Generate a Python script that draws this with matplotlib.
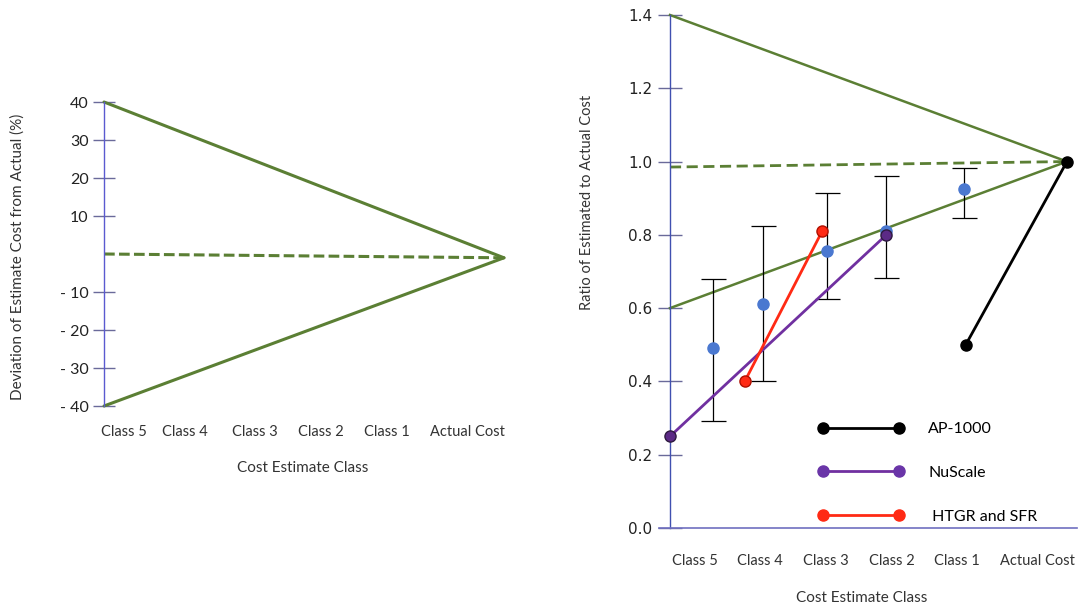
import numpy as np
import matplotlib.pyplot as plt
from matplotlib.lines import Line2D

plt.rcParams['font.family'] = ['Lato', 'DejaVu Sans']

# ---- data ----
classes = ['Class 5', 'Class 4', 'Class 3', 'Class 2', 'Class 1', 'Actual Cost']

# left panel: accuracy funnel (% deviation)
left_class_x = [0.30, 1.22, 2.27, 3.26, 4.24, 5.45]
left_funnel_x = [0.0, 6.0]
left_upper = [40, -1]
left_lower = [-40, -1]
left_mid = [0, -1]
left_yticks = [-40, -30, -20, -10, 10, 20, 30, 40]
left_yticklabels = ['- 40', '- 30', '- 20', '- 10', '10', '20', '30', '40']

# right panel: ratio of estimate to actual
right_class_x = [0.38, 1.36, 2.36, 3.36, 4.34, 5.56]
right_funnel_x = [0.0, 6.0]
right_upper = [1.4, 1.0]
right_lower = [0.6, 1.0]
right_mid = [0.985, 1.0]
right_yticks = [0.0, 0.2, 0.4, 0.6, 0.8, 1.0, 1.2, 1.4]

survey_x = [0.65, 1.40, 2.38, 3.27, 4.45]
survey_mean = [0.49, 0.61, 0.755, 0.81, 0.925]
survey_low = [0.293, 0.40, 0.625, 0.683, 0.845]
survey_high = [0.68, 0.824, 0.915, 0.96, 0.982]

ap1000_x = [4.47, 6.0]
ap1000_y = [0.50, 1.0]
nuscale_x = [0.0, 3.27]
nuscale_y = [0.25, 0.80]
htgr_x = [1.13, 2.30]
htgr_y = [0.40, 0.81]

green = '#5b7f34'
axis_blue = '#5a5ad0'
tick_col = '#6a6a9a'

W, H = 1081, 609
fig = plt.figure(figsize=(W / 100, H / 100), dpi=100)


def px_axes(x0, y0, x1, y1):
    # pixel box (left, top, right, bottom) -> figure fractions
    return fig.add_axes([x0 / W, 1 - y1 / H, (x1 - x0) / W, (y1 - y0) / H])


# ---------------- left panel ----------------
ax1 = px_axes(70.7, 83, 537.3, 425)
ax1.set_xlim(-0.5, 6.5)
ax1.set_ylim(-45, 45)

ax1.plot(left_funnel_x, left_upper, color=green, lw=2.2, solid_capstyle='round')
ax1.plot(left_funnel_x, left_lower, color=green, lw=2.2, solid_capstyle='round')
ax1.plot(left_funnel_x, left_mid, color=green, lw=2.2, dashes=(3.5, 1.4))

for s in ['top', 'right', 'bottom']:
    ax1.spines[s].set_visible(False)
ax1.spines['left'].set_position(('data', 0))
ax1.spines['left'].set_bounds(-40, 40)
ax1.spines['left'].set_color(axis_blue)
ax1.spines['left'].set_linewidth(1)

ax1.set_yticks(left_yticks)
ax1.set_yticklabels(left_yticklabels)
ax1.tick_params(axis='y', direction='inout', length=16, width=1, color=tick_col,
                labelsize=11.5, labelcolor='#222222', pad=3)
ax1.set_xticks(left_class_x)
ax1.set_xticklabels(classes)
ax1.tick_params(axis='x', length=0, labelsize=10.5, labelcolor='#333333', pad=0)

fig.text(18 / W, 1 - 257 / H, 'Deviation of Estimate Cost from Actual (%)',
         rotation=90, ha='center', va='center', fontsize=11, color='#333333')
fig.text(303 / W, 1 - 468 / H, 'Cost Estimate Class', ha='center', va='center',
         fontsize=11, color='#333333')

# ---------------- right panel ----------------
# 0.0 at y=528 px, 1.4 at y=15 px
ax2 = px_axes(636.9, 4.0, 1080.2, 535.3)
ax2.set_xlim(-0.5, 6.2)
ax2.set_ylim(-0.02, 1.43)

ax2.plot(right_funnel_x, right_upper, color=green, lw=1.8)
ax2.plot(right_funnel_x, right_lower, color=green, lw=1.8)
ax2.plot(right_funnel_x, right_mid, color=green, lw=2.0, dashes=(4, 2))

yerr = [np.array(survey_mean) - np.array(survey_low),
        np.array(survey_high) - np.array(survey_mean)]
ax2.errorbar(survey_x, survey_mean, yerr=yerr, fmt='none', ecolor='black',
             elinewidth=0.9, capsize=9, capthick=0.9, zorder=3)
ax2.scatter(survey_x, survey_mean, s=64, color='#4a78d0', zorder=4)

ax2.plot(ap1000_x, ap1000_y, color='black', lw=2, marker='o', ms=8,
         mfc='black', mec='black', zorder=5, label='AP-1000')
ax2.plot(nuscale_x, nuscale_y, color='#7030a0', lw=2, marker='o', ms=8,
         mfc='#5c2a86', mec='#2e1a40', zorder=5, label='NuScale', clip_on=False)
ax2.plot(htgr_x, htgr_y, color='#ff2a14', lw=2, marker='o', ms=8,
         mfc='#ff2a14', mec='#b01000', zorder=5, label=' HTGR and SFR')

for s in ['top', 'right']:
    ax2.spines[s].set_visible(False)
ax2.spines['left'].set_position(('data', 0))
ax2.spines['left'].set_bounds(0, 1.4)
ax2.spines['left'].set_color('#4050b0')
ax2.spines['left'].set_linewidth(1)
ax2.spines['bottom'].set_position(('data', 0))
ax2.spines['bottom'].set_bounds(-0.17, 6.15)
ax2.spines['bottom'].set_color('#7070c0')
ax2.spines['bottom'].set_linewidth(1.2)

ax2.set_yticks(right_yticks)
ax2.set_yticklabels([f'{v:.1f}' for v in right_yticks], family='DejaVu Sans')
ax2.tick_params(axis='y', direction='inout', length=17, width=1, color=tick_col,
                labelsize=11, labelcolor='#222222', pad=4)
ax2.set_xticks(right_class_x)
ax2.set_xticklabels(classes)
ax2.tick_params(axis='x', length=0, labelsize=10.5, labelcolor='#333333', pad=18.5)

fig.text(587 / W, 1 - 202 / H, 'Ratio of Estimated to Actual Cost',
         rotation=90, ha='center', va='center', fontsize=10.5, color='#333333')
fig.text(862 / W, 1 - 598 / H, 'Cost Estimate Class', ha='center', va='center',
         fontsize=11, color='#333333')

handles = [Line2D([], [], color='black', lw=2, marker='o', ms=8, mfc='black', mec='black'),
           Line2D([], [], color='#7030a0', lw=2, marker='o', ms=8, mfc='#6a35a8', mec='#6a35a8'),
           Line2D([], [], color='#ff2a14', lw=2, marker='o', ms=8, mfc='#ff2a14', mec='#ff2a14')]
fig.legend(handles, ['AP-1000', 'NuScale', ' HTGR and SFR'], numpoints=2,
           loc='upper left', bbox_to_anchor=(818 / W, 1 - 422 / H), frameon=False,
           fontsize=11.5, handlelength=5.4, handletextpad=1.5, labelspacing=1.85,
           borderpad=0, borderaxespad=0)

fig.savefig('out.png', dpi=100)
